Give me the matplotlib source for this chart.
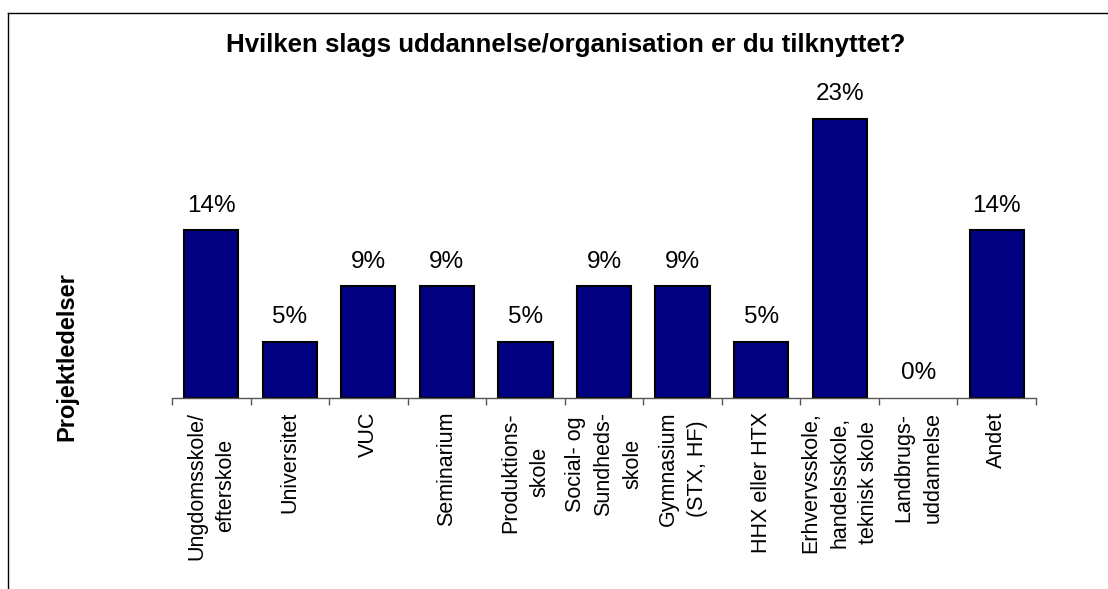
import matplotlib.pyplot as plt
from matplotlib.lines import Line2D

CATEGORIES = [
    "Ungdomsskole/\nefterskole",
    "Universitet",
    "VUC",
    "Seminarium",
    "Produktions-\nskole",
    "Social- og\nSundheds-\nskole",
    "Gymnasium\n(STX, HF)",
    "HHX eller HTX",
    "Erhvervsskole,\nhandelsskole,\nteknisk skole",
    "Landbrugs-\nuddannelse",
    "Andet",
]
COUNTS = [3, 1, 2, 2, 1, 2, 2, 1, 5, 0, 3]
TOTAL = 22
SHARES = [c / TOTAL for c in COUNTS]

TITLE = "Hvilken slags uddannelse/organisation er du tilknyttet?"
YLABEL = "Projektledelser"

W, H = 1108, 589
BAR_COLOR = "#000080"

plt.rcParams["font.family"] = ["Liberation Sans", "DejaVu Sans"]

fig = plt.figure(figsize=(W / 100, H / 100), dpi=100)
ax = fig.add_axes([172 / W, 1 - 398 / H, (1036 - 172) / W, 0.25 * 1229 / H])

x = list(range(len(CATEGORIES)))
bars = ax.bar(x, SHARES, width=0.69, color=BAR_COLOR, edgecolor="black", linewidth=1.5)
for b, v in zip(bars, SHARES):
    if v == 0:
        b.set_linewidth(0)

for xi, v in zip(x, SHARES):
    ax.annotate(f"{v * 100:.0f}%", (xi, v), xytext=(0, 13.5), textcoords="offset points",
                ha="center", va="baseline", fontsize=17.5)

ax.set_xlim(-0.5, len(CATEGORIES) - 0.5)
ax.set_ylim(0, 0.25)
ax.set_xticks(x)
ax.set_xticklabels(CATEGORIES, rotation=90, ha="center", va="top",
                   multialignment="center", fontsize=15.5, linespacing=1.5)
ax.set_xticks([i - 0.5 for i in range(len(CATEGORIES) + 1)], minor=True)
ax.tick_params(axis="x", which="major", length=0, pad=10)
ax.tick_params(axis="x", which="minor", length=5, width=1, color="#555555", direction="out")
ax.set_yticks([])
for side in ("left", "right", "top"):
    ax.spines[side].set_visible(False)
ax.spines["bottom"].set_color("#555555")
ax.spines["bottom"].set_linewidth(1)

fig.text(566 / W, 1 - 45 / H, TITLE, ha="center", va="center", fontsize=18.6, fontweight="bold")
fig.text(67 / W, 1 - 357 / H, YLABEL, ha="center", va="center", rotation=90,
         fontsize=17, fontweight="bold")

# frame lines at top and left
fig.add_artist(Line2D([8 / W, 1], [1 - 13 / H, 1 - 13 / H], color="black", linewidth=1))
fig.add_artist(Line2D([8 / W, 8 / W], [0, 1 - 13 / H], color="black", linewidth=1))

fig.savefig("out.png", dpi=100)
